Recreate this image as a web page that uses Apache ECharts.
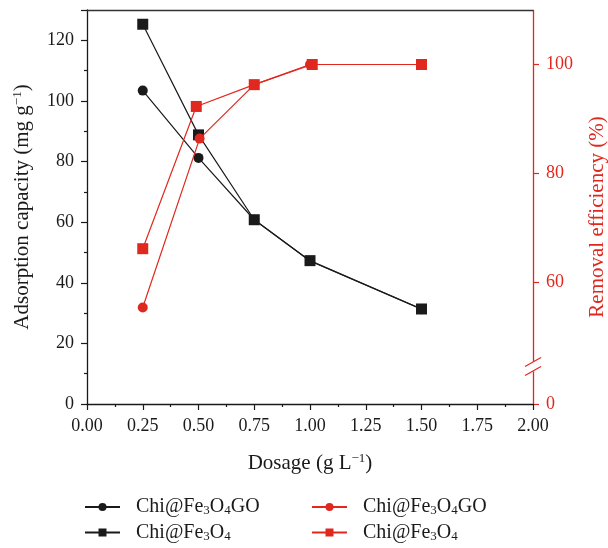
<!DOCTYPE html>
<html>
<head>
<meta charset="utf-8">
<script src="https://cdn.jsdelivr.net/npm/echarts@6/dist/echarts.min.js"></script>
<style>html,body{margin:0;padding:0;background:#fff}#c{width:608px;height:548px}</style>
</head>
<body>
<div id="c"></div>
<script>
// Dosage (g/L) and values
var dosageCircleBlack = [0.25, 0.5, 0.75, 1.0, 1.5];
var capacityGO = [103.4, 81.2, 60.8, 47.2, 31.3];
var dosageSquareBlack = [0.25, 0.5, 0.75, 1.0, 1.5];
var capacityFe = [125.3, 88.8, 60.8, 47.3, 31.35];
var dosageCircleRed = [0.25, 0.505, 0.75, 1.0, 1.5];
var removalGO = [55.4, 86.4, 96.3, 100.0, 100.0];
var dosageSquareRed = [0.25, 0.49, 0.75, 1.01, 1.5];
var removalFe = [66.2, 92.3, 96.3, 100.0, 100.0];
var xTicks = ['0.00','0.25','0.50','0.75','1.00','1.25','1.50','1.75','2.00'];
var leftTicks = [0, 20, 40, 60, 80, 100, 120];
var rightTicks = [0, 60, 80, 100];
var rightBreak = { start: 6.5, end: 45, gap: 0.8 };

function pairs(xs, ys){ return xs.map(function(x,i){ return [x, ys[i]]; }); }

var BLACK = '#1a1a1a', RED = '#e0281e';
var FONT = 'Liberation Serif';
var names = {
  q_go: '{a|Chi@Fe}{s|3}{a|O}{s|4}{a|GO}',
  q_fe: '{a|Chi@Fe}{s|3}{a|O}{s|4}',
  r_go: '{a|Chi@Fe}{s|3}{a|O}{s|4}{a|GO}',
  r_fe: '{a|Chi@Fe}{s|3}{a|O}{s|4}'
};
function legendCfg(left, data){
  return {
    orient: 'vertical', left: left, top: 497, padding: 0, height: 54, itemGap: 5, itemWidth: 35, itemHeight: 10,
    data: data,
    formatter: function(n){ return names[n]; },
    textStyle: { fontFamily: FONT, fontSize: 20, color: BLACK, padding: [0,0,0,11],
      rich: { a: { fontSize: 20, fontFamily: FONT, color: BLACK, lineHeight: 21 },
              s: { fontSize: 13, fontFamily: FONT, color: BLACK, verticalAlign: 'bottom', lineHeight: 14, padding: [7,0,0,0] } } }
  };
}
var supRich = function(color){ return {
  a: { fontSize: 21, fontFamily: FONT, color: color },
  p: { fontSize: 13, fontFamily: FONT, color: color, verticalAlign: 'top', padding: [0,0,9,0] } }; };

var chart = echarts.init(document.getElementById('c'));
chart.setOption({
  backgroundColor: '#fff',
  animation: false,
  grid: { left: 87, right: 75, top: 10, bottom: 144, outerBoundsMode: 'none', containLabel: false },
  legend: [legendCfg(84, ['q_go','q_fe']), legendCfg(311, ['r_go','r_fe'])],
  xAxis: [{
    type: 'value', min: 0, max: 2, interval: 0.25,
    name: '{a|Dosage (g L}{p|−1}{a|)}', nameLocation: 'middle', nameGap: 48,
    nameTextStyle: { rich: supRich(BLACK) },
    axisLine: { onZero: false, lineStyle: { color: BLACK, width: 1.3 } },
    axisTick: { length: 6, lineStyle: { color: BLACK, width: 1.2 } },
    minorTick: { show: true, splitNumber: 2, length: 3, lineStyle: { color: BLACK, width: 1.2 } },
    splitLine: { show: false },
    axisLabel: { fontFamily: FONT, fontSize: 18, color: BLACK, margin: 13,
      formatter: function(v){ var i = Math.round(v/0.25); return xTicks[i] !== undefined ? xTicks[i] : ''; } }
  }, {
    type: 'value', min: 0, max: 2, position: 'top',
    axisLine: { show: true, onZero: false, lineStyle: { color: '#333', width: 1.3 } },
    axisTick: { show: false }, axisLabel: { show: false }, splitLine: { show: false }
  }],
  yAxis: [{
    type: 'value', min: 0, max: 130, interval: 20, position: 'left',
    name: '{a|Adsorption capacity (mg g}{p|−1}{a|)}', nameLocation: 'middle', nameGap: 54, nameRotate: 90,
    nameTextStyle: { rich: supRich(BLACK) },
    axisLine: { show: true, onZero: false, lineStyle: { color: BLACK, width: 1.3 } },
    axisTick: { show: true, length: 6, lineStyle: { color: BLACK, width: 1.2 } },
    minorTick: { show: true, splitNumber: 2, length: 3, lineStyle: { color: BLACK, width: 1.2 } },
    splitLine: { show: false },
    axisLabel: { fontFamily: FONT, fontSize: 18, color: BLACK, margin: 13, showMaxLabel: false,
      formatter: function(v){ return leftTicks.indexOf(v) >= 0 ? String(v) : ''; } }
  }, {
    type: 'value', min: 0, max: 110, interval: 20, position: 'right',
    breaks: [rightBreak],
    breakArea: { show: false },
    name: 'Removal efficiency (%)', nameLocation: 'middle', nameGap: 54, nameRotate: 90,
    nameTextStyle: { fontSize: 21, fontFamily: FONT, color: RED, padding: [0, 20, 0, 0] },
    axisLine: { show: true, onZero: false, lineStyle: { color: RED, width: 1.3 } },
    axisTick: { show: true, length: 6, customValues: rightTicks, lineStyle: { color: RED, width: 1.2 } },
    splitLine: { show: false },
    axisLabel: { fontFamily: FONT, fontSize: 18, color: RED, margin: 13, customValues: rightTicks, hideOverlap: false,
      formatter: function(v){ return String(v); } }
  }],
  series: [
    { name: 'q_go', type: 'line', yAxisIndex: 0, data: pairs(dosageCircleBlack, capacityGO), symbol: 'circle', symbolSize: 10,
      lineStyle: { color: BLACK, width: 1.2 }, itemStyle: { color: BLACK }, z: 2 },
    { name: 'q_fe', type: 'line', yAxisIndex: 0, data: pairs(dosageSquareBlack, capacityFe), symbol: 'rect', symbolSize: 11,
      lineStyle: { color: BLACK, width: 1.2 }, itemStyle: { color: BLACK }, z: 3 },
    { name: 'r_go', type: 'line', yAxisIndex: 1, data: pairs(dosageCircleRed, removalGO), symbol: 'circle', symbolSize: 10,
      lineStyle: { color: RED, width: 1.2 }, itemStyle: { color: RED }, z: 4 },
    { name: 'r_fe', type: 'line', yAxisIndex: 1, data: pairs(dosageSquareRed, removalFe), symbol: 'rect', symbolSize: 11,
      lineStyle: { color: RED, width: 1.2 }, itemStyle: { color: RED }, z: 5 }
  ]
});

// axis-break marker "//" on the right axis, placed from the axis scale
var yb = (chart.convertToPixel({ yAxisIndex: 1 }, rightBreak.start) + chart.convertToPixel({ yAxisIndex: 1 }, rightBreak.end)) / 2;
var xb = chart.convertToPixel({ xAxisIndex: 0 }, 2);
if (isFinite(yb) && isFinite(xb)) {
  chart.setOption({ graphic: [
    { type: 'rect', shape: { x: xb - 3, y: yb - 5, width: 6, height: 10 }, style: { fill: '#fff' }, z: 100 },
    { type: 'line', shape: { x1: xb - 8, y1: yb + 0, x2: xb + 8, y2: yb - 9 }, style: { stroke: RED, lineWidth: 1.2 }, z: 101 },
    { type: 'line', shape: { x1: xb - 8, y1: yb + 9, x2: xb + 8, y2: yb - 0 }, style: { stroke: RED, lineWidth: 1.2 }, z: 101 }
  ]});
}
</script>
</body>
</html>
